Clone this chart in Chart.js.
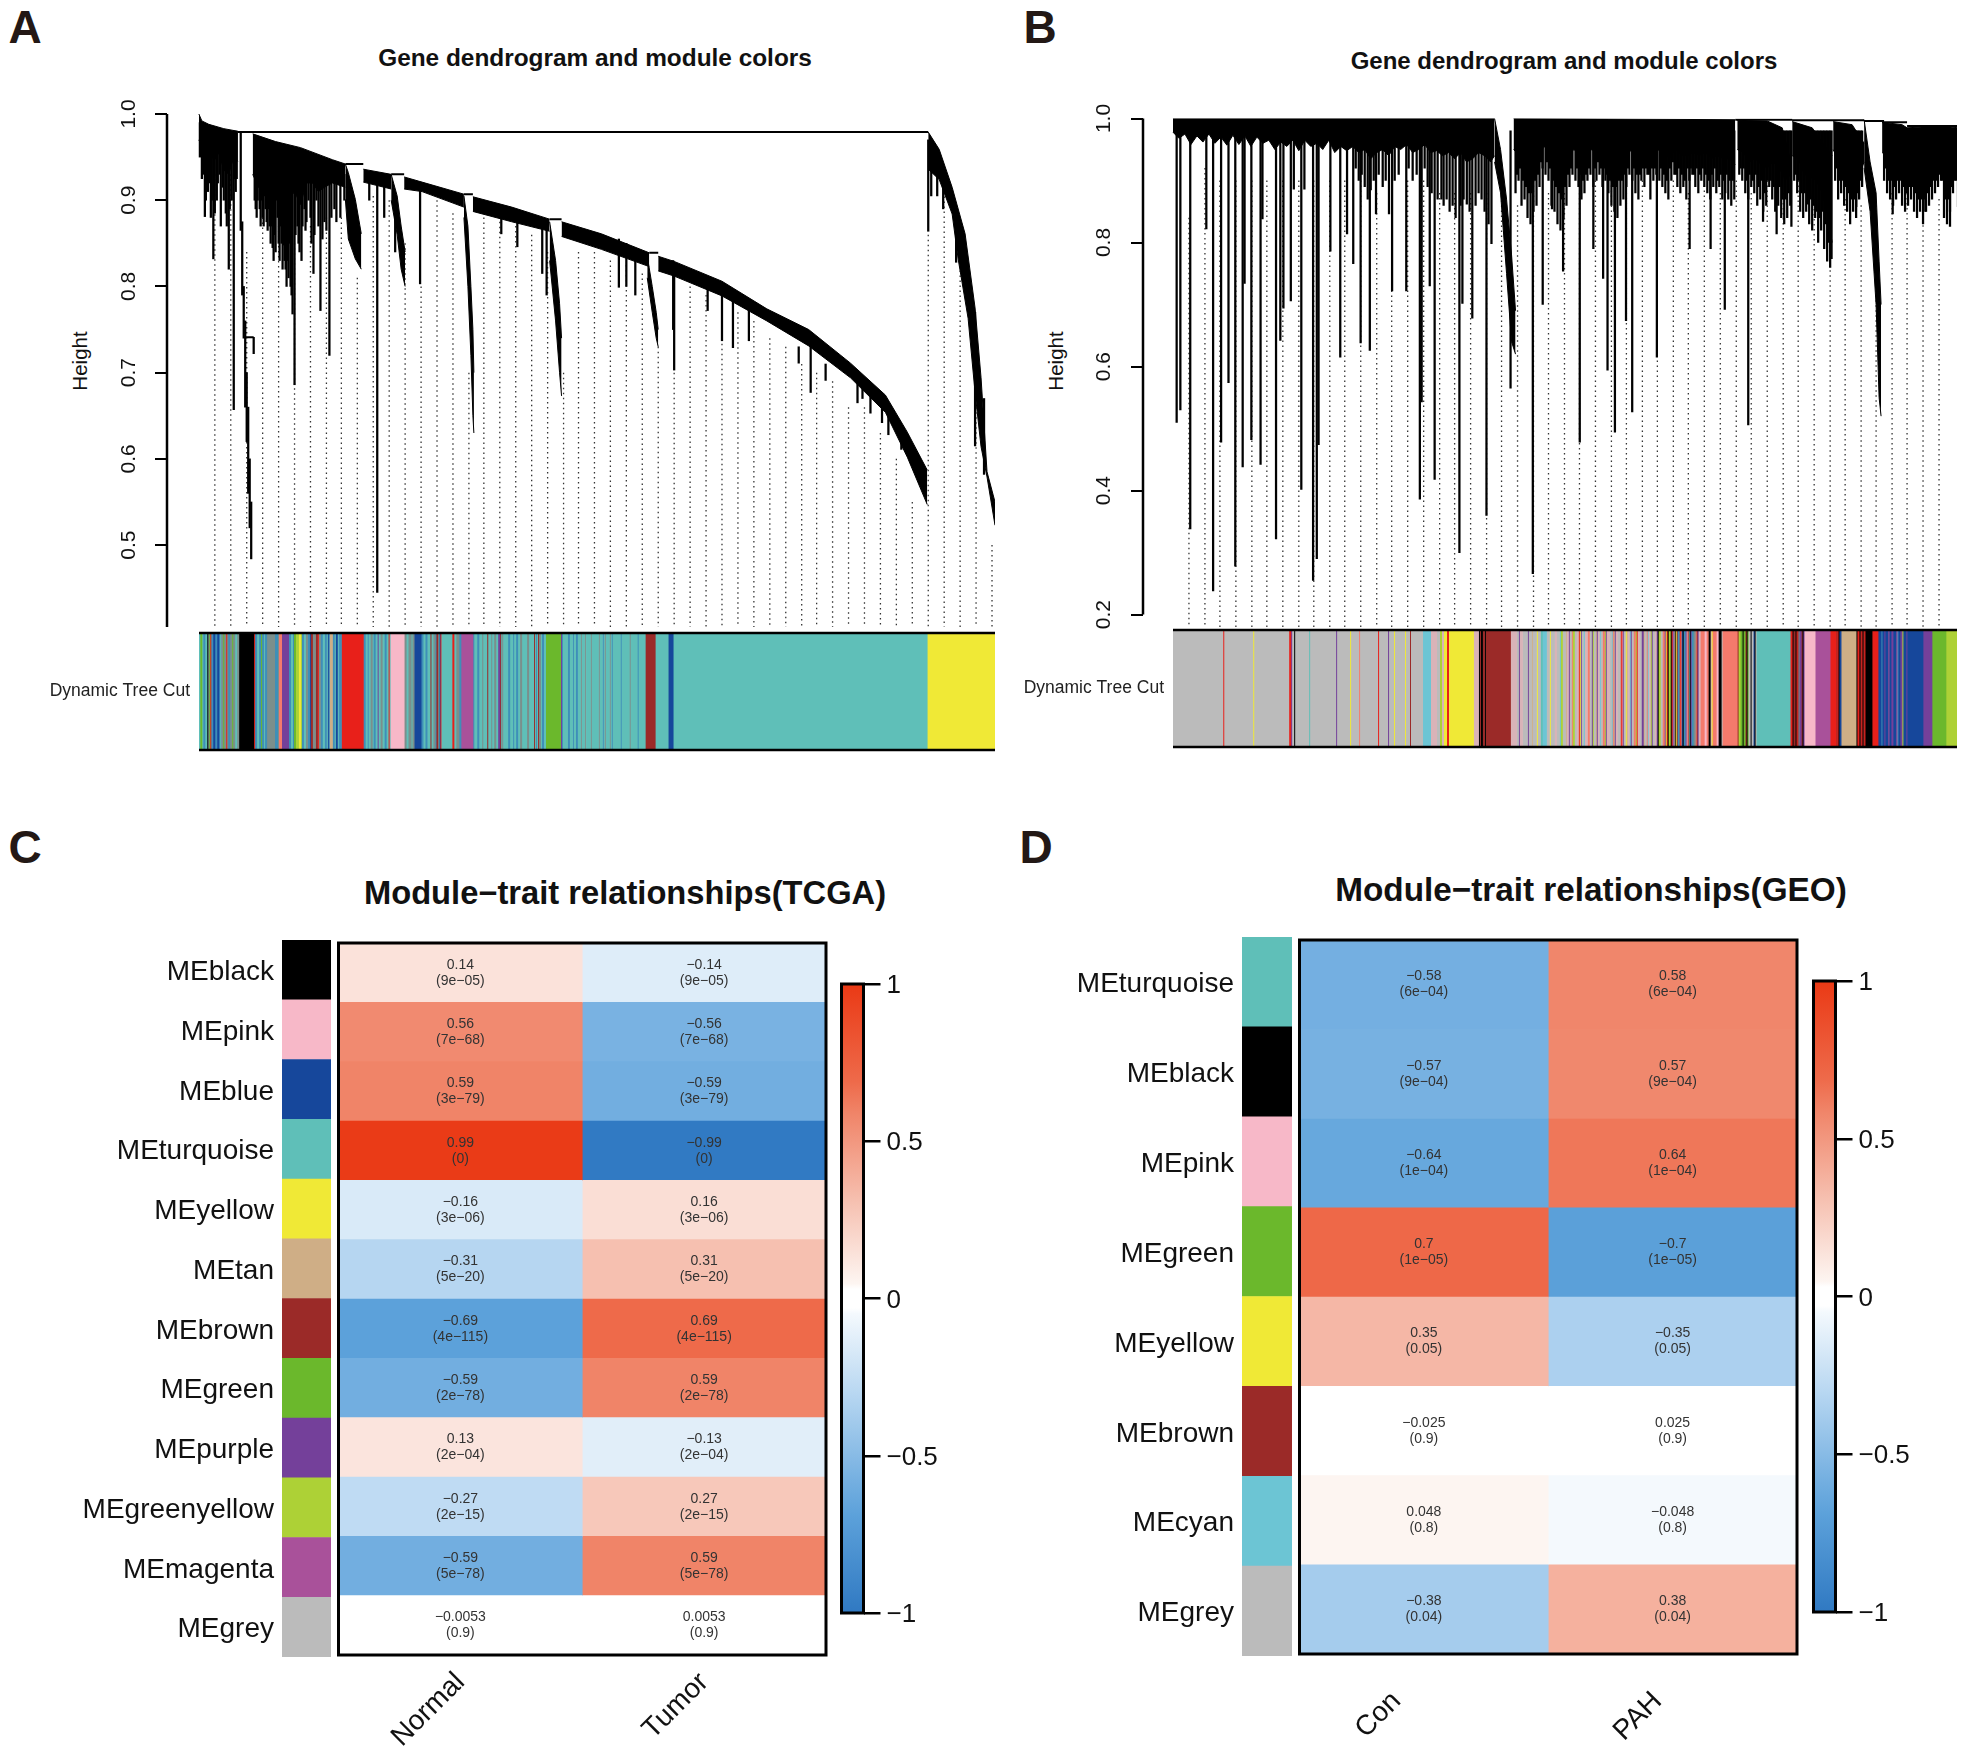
<!DOCTYPE html>
<html>
<head>
<meta charset="utf-8">
<title>Gene dendrograms and module-trait relationships</title>
<script src="https://cdn.jsdelivr.net/npm/chart.js@4"></script>
<style>
html,body{margin:0;padding:0;background:#fff;width:1965px;height:1751px;overflow:hidden;font-family:"Liberation Sans",Arial,sans-serif;}
canvas{position:absolute;}
.t{position:absolute;white-space:nowrap;color:#111;transform:translate(-50%,-50%);line-height:1;}
.b{font-weight:bold;}
.letter{font-weight:bold;color:#231815;font-size:46px;}
.rot{transform:translate(-50%,-50%) rotate(-90deg);}
</style>
</head>
<body>
<div class="t letter" style="left:25px;top:27px">A</div>
<div class="t letter" style="left:1040px;top:27px">B</div>
<div class="t letter" style="left:25px;top:847px">C</div>
<div class="t letter" style="left:1036px;top:847px">D</div>
<div class="t b" style="left:595px;top:58px;font-size:24.4px">Gene dendrogram and module colors</div>
<div class="t b" style="left:1564px;top:61px;font-size:24px">Gene dendrogram and module colors</div>
<div class="t b" style="left:625px;top:893px;font-size:32.7px">Module−trait relationships(TCGA)</div>
<div class="t b" style="left:1591px;top:890px;font-size:33.3px">Module−trait relationships(GEO)</div>
<div class="t rot" style="left:80px;top:361px;font-size:20.5px">Height</div>
<div class="t rot" style="left:1056px;top:361px;font-size:20.5px">Height</div>
<script>
// ---------- module colours ----------
const moduleColors = {black:'#000000',pink:'#F7B8C8',blue:'#16479B',turquoise:'#5FBFB8',yellow:'#F0E936',tan:'#CFAE86',brown:'#9B2A28',green:'#6BB82C',purple:'#74409A',greenyellow:'#ADD136',magenta:'#A9519A',grey:'#BBBBBB',cyan:'#6CC5D4'};
const stripCodes = {T:'#5FBFB8',B:'#16479B',N:'#9B2A28',Y:'#F0E936',G:'#6BB82C',R:'#E8201A',K:'#000000',P:'#F7B8C8',M:'#A9519A',U:'#74409A',L:'#ADD136',A:'#CFAE86',S:'#F47A6C',C:'#6CC5D4',E:'#BBBBBB',W:'#3E8FB8',X:'#7B8F8C',Z:'#D9B3B8'};

// ---------- panel C ----------
const rowsC = ['MEblack','MEpink','MEblue','MEturquoise','MEyellow','MEtan','MEbrown','MEgreen','MEpurple','MEgreenyellow','MEmagenta','MEgrey'];
const colorsC = ['black','pink','blue','turquoise','yellow','tan','brown','green','purple','greenyellow','magenta','grey'];
const traitsC = ['Normal','Tumor'];
const corrNormal = [0.14,0.56,0.59,0.99,-0.16,-0.31,-0.69,-0.59,0.13,-0.27,-0.59,-0.0053];
const corrTumor = [-0.14,-0.56,-0.59,-0.99,0.16,0.31,0.69,0.59,-0.13,0.27,0.59,0.0053];
const pvalC = ['(9e−05)','(7e−68)','(3e−79)','(0)','(3e−06)','(5e−20)','(4e−115)','(2e−78)','(2e−04)','(2e−15)','(5e−78)','(0.9)'];

// ---------- panel D ----------
const rowsD = ['MEturquoise','MEblack','MEpink','MEgreen','MEyellow','MEbrown','MEcyan','MEgrey'];
const colorsD = ['turquoise','black','pink','green','yellow','brown','cyan','grey'];
const traitsD = ['Con','PAH'];
const corrCon = [-0.58,-0.57,-0.64,0.7,0.35,-0.025,0.048,-0.38];
const corrPah = [0.58,0.57,0.64,-0.7,-0.35,0.025,-0.048,0.38];
const pvalD = ['(6e−04)','(9e−04)','(1e−04)','(1e−05)','(0.05)','(0.9)','(0.8)','(0.04)'];

// ---------- colour scale ----------
const rampValues = [-1,-0.69,-0.59,-0.31,-0.048,-0.03,0.03,0.048,0.31,0.59,0.69,1];
const rampColors = [[48,121,194],[92,161,218],[114,174,224],[182,214,241],[244,249,253],[255,255,255],[255,255,255],[253,245,241],[246,192,176],[240,132,104],[238,106,74],[234,57,21]];
const barTicks = [-1,-0.5,0,0.5,1];

// ---------- panel A: tree ----------
const yTicksA = [0.5,0.6,0.7,0.8,0.9,1.0];
const guideXA = [16,32,48,64,80,96,112,128,143,159,175,191,207,223,239,255,271,286,302,318,334,350,366,381,397,413,429,445,461,477,493,509,525,541,557,573,589,605,620,636,652,668,684,700,716,732,748,764,780,796];
const guideTopA = [.93,.93,.84,.88,.87,.85,.87,.88,.88,.81,.905,.90,.85,.80,.90,.885,.70,.88,.875,.87,.86,.84,.70,.84,.84,.83,.825,.815,.73,.70,.80,.79,.78,.77,.76,.74,.73,.71,.70,.69,.66,.66,.63,.60,.55,.86,.91,.83,.66,.50];
const bandsA = [
 {top:[[0,1],[3,.992],[10,.988],[25,.983],[39,.98]],low:[[0,.97],[5,.955],[10,.962],[15,.945],[20,.955],[25,.935],[30,.93],[35,.95],[39,.945]]},
 {top:[[54,.977],[77,.968],[102,.961],[134,.947],[147,.942]],low:[[54,.93],[60,.915],[66,.92],[72,.91],[78,.925],[84,.905],[90,.90],[96,.91],[102,.895],[108,.92],[114,.92],[120,.91],[126,.915],[134,.92],[147,.915]]},
 {top:[[147,.942],[150,.932],[157,.901],[163,.861]],low:[[147,.901],[150,.855],[157,.832],[163,.82]]},
 {top:[[165,.936],[193,.93]],low:[[165,.921],[193,.913]]},
 {top:[[193,.93],[199,.905],[203,.87],[207,.84]],low:[[193,.90],[199,.86],[203,.82],[207,.80]]},
 {top:[[206,.927],[224,.921],[266,.907]],low:[[206,.913],[224,.91],[266,.892]]},
 {top:[[266,.905],[270,.87],[273,.80],[275,.75],[276,.70]],low:[[266,.88],[270,.80],[273,.72],[275,.65],[276,.63]]},
 {top:[[275,.904],[314,.892],[352,.878]],low:[[275,.887],[314,.875],[352,.864]]},
 {top:[[352,.875],[358,.83],[362,.78],[364,.74]],low:[[352,.83],[358,.76],[362,.70],[364,.673]]},
 {top:[[364,.875],[404,.861],[452,.839]],low:[[364,.858],[404,.843],[452,.823]]},
 {top:[[450,.835],[455,.80],[459,.77],[461,.75]],low:[[450,.81],[455,.77],[459,.74],[461,.73]]},
 {top:[[461,.835],[477,.829],[525,.806],[570,.774],[612,.75],[654,.711],[689,.674],[711,.631],[731,.587]],low:[[461,.818],[477,.812],[525,.789],[570,.76],[612,.731],[654,.694],[689,.654],[711,.602],[731,.547]]},
 {top:[[732,.979],[743,.959],[756,.915],[769,.861],[779,.775],[785,.694],[791,.585],[799,.55]],low:[[732,.936],[743,.924],[756,.884],[762,.832],[772,.763],[779,.677],[785,.614],[791,.579],[799,.523]]}
];
const linksA = [[39,732,.979],[147,165,.942],[193,206,.93],[266,275,.907],[352,364,.878],[452,461,.839],[45.5,55,.741]];
const stemsA = [
 [1,.99,.95],[3,.985,.925],[4,.99,.93],[6,.985,.881],[7,.985,.90],[9,.985,.91],[10,.985,.92],[12,.98,.88],[13,.98,.90],[14.5,.98,.832],[16,.98,.885],[18,.98,.90],[19,.98,.92],[21,.98,.93],[22,.98,.87],[24,.98,.915],[25,.98,.90],[27,.98,.885],[28,.98,.87],[30,.98,.82],[31,.98,.89],[33,.98,.90],[35,.98,.657],[36,.98,.925],[37,.98,.91],[38,.98,.925],
 [42,.979,.865],[43.5,.875,.79],[45,.80,.74],[46.5,.76,.66],[48,.70,.62],[49.5,.66,.56],[51,.60,.52],[52.5,.55,.484],[55,.741,.722],
 [56,.97,.90],[57,.97,.89],[58,.97,.88],[59,.97,.90],[60,.97,.915],[61,.97,.89],[62,.97,.87],[63,.97,.90],[64,.97,.88],[65,.97,.87],[66,.97,.905],[67,.96,.89],[68,.96,.875],[69,.96,.865],[70,.96,.89],[71,.96,.87],[72,.96,.85],[73,.96,.87],[74,.96,.845],[75,.96,.83],[76,.96,.86],[77,.96,.84],[78,.96,.90],[79,.96,.88],[80,.96,.85],[81,.96,.83],[82,.96,.87],[83,.96,.85],[84,.96,.82],[85,.96,.848],[86,.96,.83],[87,.96,.82],[88,.96,.80],[89,.96,.83],[90,.96,.81],[91,.96,.85],[92,.95,.80],[93,.95,.79],[94,.955,.768],[96,.95,.686],[97,.95,.86],[99,.95,.87],[100,.95,.85],[101,.95,.84],[103,.95,.83],[104,.95,.87],[106,.95,.89],[107,.95,.865],[108,.95,.875],[110,.95,.90],[112,.95,.88],[113,.95,.85],[115,.95,.815],[116,.95,.86],[118,.95,.90],[120,.94,.87],[122,.94,.772],[124,.94,.855],[126,.94,.875],[128,.94,.865],[131,.94,.72],[133,.94,.88],[136,.93,.89],[138,.93,.875],[142,.93,.88],[146,.93,.90],
 [171,.93,.90],[179,.92,.445],[186,.92,.88],[197,.9,.84],[222,.92,.803],[303.5,.885,.861],[319.6,.875,.846],[344.6,.87,.815],[349,.87,.79],
 [421.5,.855,.799],[429,.85,.80],[438,.84,.79],[476,.83,.75],[477,.82,.703],[510.6,.80,.772],[525,.79,.737],[536,.785,.729],[552,.775,.737],[602,.73,.711],[614,.73,.677],[629,.71,.691],[661,.69,.665],[666,.69,.67],[674,.68,.653],[685.6,.66,.642],[692,.65,.628],[705,.62,.611],
 [732,.97,.864],[735,.95,.905],[741,.95,.905],[747,.94,.89],[760,.89,.828],[779,.77,.615],[788,.67,.582]
];
const stripA = ('T1 G2 T1 W2 T2 K1 X1 G1 R1 W2 B2 W2 B2 W1 T1 X2 G1 X2 R1 X1 W2 X2 G1 X2 T2 X2 K15 '+
 'R1 W2 T2 W2 G1 W2 T1 W2 X8 W3 X1 S3 U7 W2 T2 W1 G2 L3 Y2 L1 '+
 'W2 T2 X2 W2 B1 N2 X3 N2 R1 X2 W2 T2 W2 T1 B1 W1 A3 W2 T1 B2 T1 W1 W2 R22 '+
 'W2 T2 W1 T2 X2 T1 W2 T2 U1 T2 X2 T2 W2 T2 R1 T1 P14 X2 T2 X3 T1 X2 B7 '+
 'W2 T2 W2 T3 N1 T2 X2 W1 N2 T1 B1 R1 T11 R2 T2 X3 W2 M12 '+
 'W1 T3 W2 T3 X1 T4 N1 T3 X1 T2 X2 T2 U2 N1 T1 X1 T5 W2 T3 W1 T2 W2 T2 X2 T5 X2 T5 N1 T1 W1 T1 N1 X2 T1 W2 T2 G15 '+
 'U1 W1 T5 W2 T3 W1 T2 W2 T3 X1 T3 X1 T1 T4 X1 T7 X1 T3 W1 T1 X1 T4 X1 T1 W1 T8 W1 T8 X1 T1 T6 W1 T7 '+
 'N10 T13 B5 T255 Y69').split(' ');

// ---------- panel B: tree ----------
const yTicksB = [0.2,0.4,0.6,0.8,1.0];
const guideXB = [16,32,47,63,79,94,110,126,141,157,172,188,204,219,235,251,267,282,298,314,329,345,361,376,392,407,423,439,454,470,485,501,516,532,548,564,579,595,611,626,642,658,673,689,704,720,735,751,767];
const guideTopB = [.84,.92,.9,.9,.9,.9,.9,.9,.9,.9,.9,.9,.88,.9,.9,.9,.88,.88,.88,.88,.9,.86,.9,.88,.88,.88,.9,.9,.88,.9,.9,.9,.88,.9,.88,.9,.88,.9,.88,.9,.87,.86,.87,.86,.86,.88,.88,.86,.87];
const bandsB = [
 {top:[[0,1],[322,1]],low:[[0,.978],[6,.968],[12,.975],[18,.958],[24,.972],[30,.962],[36,.975],[42,.96],[48,.97],[54,.957],[60,.973],[66,.958],[72,.972],[78,.955],[84,.97],[90,.96],[96,.965],[102,.95],[108,.962],[114,.955],[120,.965],[126,.948],[132,.965],[138,.955],[144,.96],[150,.95],[156,.965],[162,.945],[168,.955],[174,.948],[180,.955],[186,.945],[192,.95],[198,.935],[204,.945],[210,.95],[216,.94],[222,.955],[228,.95],[234,.958],[240,.945],[246,.95],[252,.958],[258,.945],[264,.948],[270,.94],[276,.945],[282,.935],[288,.945],[294,.93],[300,.935],[306,.945],[312,.94],[318,.93],[322,.94]]},
 {top:[[322,1],[328,.95],[334,.87],[339,.78],[343,.69]],low:[[322,.93],[328,.88],[334,.75],[339,.64],[343,.62]]},
 {top:[[341,1],[563,.998]],low:[[341,.95],[347,.94],[353,.93],[359,.915],[365,.925],[371,.955],[377,.95],[383,.92],[389,.91],[395,.93],[401,.95],[407,.945],[413,.935],[419,.95],[425,.945],[431,.95],[437,.94],[443,.925],[449,.93],[455,.945],[461,.95],[467,.935],[473,.945],[479,.94],[485,.95],[491,.945],[497,.935],[503,.95],[509,.94],[515,.94],[521,.945],[527,.94],[533,.945],[539,.935],[545,.94],[551,.935],[557,.935],[563,.925]]},
 {top:[[565,.997],[595,.996],[610,.985],[619,.93]],low:[[565,.95],[571,.945],[577,.93],[583,.935],[589,.925],[595,.92],[601,.93],[607,.92],[613,.90],[619,.91]]},
 {top:[[620,.995],[640,.985],[660,.94]],low:[[620,.94],[626,.935],[632,.91],[638,.905],[644,.90],[650,.88],[656,.84],[660,.80]]},
 {top:[[661,.995],[680,.99],[692,.96]],low:[[661,.95],[667,.93],[673,.93],[679,.91],[685,.90],[692,.93]]},
 {top:[[692,.998],[698,.93],[704,.88],[707,.77],[709,.70]],low:[[692,.92],[698,.85],[704,.70],[707,.55],[709,.52]]},
 {top:[[710,.994],[730,.99],[735,.985],[770,.988],[786,.985]],low:[[710,.945],[716,.94],[722,.92],[728,.93],[734,.92],[740,.925],[746,.91],[752,.90],[758,.915],[764,.93],[770,.94],[776,.905],[782,.93],[786,.94]]}
];
const linksB = [[563,620,.998],[620,692,.997],[692,712,.996],[710,735,.994],[735,786,.988]];
const stemsB = [[3.7,.510],[7.4,.530],[17.3,.338],[33.4,.822],[40.2,.238],[48.2,.478],[55.6,.574],[62.4,.278],[69.8,.438],[71.7,.734],[78.5,.482],[87.7,.442],[89.6,.838],[103.2,.322],[107.5,.642],[110.6,.694],[118,.706],[121,.886],[128.5,.402],[131.6,.886],[140.3,.255],[144,.290],[145.8,.474],[157.6,.786],[167.5,.615],[174.3,.814],[180.5,.766],[187.9,.638],[197.1,.626],[203.3,.846],[216.3,.846],[219.4,.722],[233.6,.722],[247.2,.386],[249,.543],[257.1,.730],[262,.418],[268.8,.870],[286.8,.300],[289.8,.702],[294.2,.862],[299.7,.678],[313.9,.360],[318.9,.798],[338,.565],[360.3,.266],[370.2,.700],[379.5,.854],[390.6,.754],[407.3,.478],[420.9,.790],[430.7,.742],[435.1,.594],[442.5,.494],[453.6,.674],[459.8,.527],[484.5,.615],[517.3,.790],[538.3,.790],[552.5,.692],[576,.506],[590.8,.834],[604.4,.814],[619.2,.826],[635.9,.862],[659.4,.774],[684.1,.858],[720.6,.846],[753.3,.850],[778,.826],[786,.858]];
const shortStemsB = [[183,.92],[186,.90],[189,.91],[192,.89],[195,.87],[198,.885],[201,.90],[206,.91],[210,.89],[213,.90],[222,.90],[226,.91],[236,.92],[240,.90],[244,.91],[252,.92],[255,.89],[259,.88],[265,.87],[271,.86],[274,.87],[277,.85],[280,.86],[283,.84],[288,.86],[291,.87],[297,.85],[303,.86],[306,.88],[309,.87],[312,.85],[316,.83],
 [343,.88],[346,.90],[349,.86],[352,.87],[355,.84],[358,.83],[361,.85],[364,.86],[367,.89],[370,.92],[373,.91],[376,.90],[379,.86],[382,.85],[385,.83],[388,.82],[391,.84],[394,.86],[397,.89],[400,.91],[403,.90],[406,.89],[409,.87],[412,.88],[415,.90],[418,.91],[421,.89],[424,.90],[427,.91],[430,.89],[433,.90],[436,.88],[439,.86],[442,.85],[445,.84],[448,.86],[451,.87],[454,.89],[457,.91],[460,.90],[463,.88],[466,.87],[469,.90],[472,.89],[475,.91],[478,.87],[481,.90],[484,.91],[487,.90],[490,.89],[493,.88],[496,.87],[499,.90],[502,.91],[505,.89],[508,.88],[511,.89],[514,.87],[517,.90],[520,.91],[523,.89],[526,.88],[529,.90],[532,.89],[535,.88],[538,.87],[541,.89],[544,.88],[547,.89],[550,.87],[553,.88],[556,.87],[559,.86],[562,.87],
 [567,.91],[570,.90],[573,.88],[576,.87],[579,.89],[582,.88],[585,.86],[588,.87],[591,.85],[594,.86],[597,.89],[600,.87],[603,.85],[606,.86],[609,.84],[612,.83],[615,.84],[618,.86],
 [622,.90],[625,.88],[628,.85],[631,.84],[634,.85],[637,.83],[640,.82],[643,.84],[646,.80],[649,.82],[652,.79],[655,.77],[658,.76],
 [663,.90],[666,.87],[669,.88],[672,.86],[675,.85],[678,.83],[681,.85],[684,.84],[687,.87],[690,.89],
 [712,.90],[715,.88],[718,.87],[721,.86],[724,.87],[727,.88],[730,.86],[733,.85],[736,.86],[739,.87],[742,.85],[745,.84],[748,.85],[751,.83],[754,.85],[757,.86],[760,.87],[763,.88],[766,.89],[769,.90],[772,.84],[775,.83],[778,.85],[781,.88],[784,.90]];
const fineStemsB = [[344.5,.91],[347.5,.92],[350.5,.90],[353.5,.89],[356.5,.88],[359.5,.88],[362.5,.90],[365.5,.91],[368.5,.93],[374.5,.93],[377.5,.92],[380.5,.90],[383.5,.89],[386.5,.88],[389.5,.87],[392.5,.89],[395.5,.91],[398.5,.92],[404.5,.92],[407.5,.91],[410.5,.90],[413.5,.91],[416.5,.92],[422.5,.92],[425.5,.93],[428.5,.92],[431.5,.92],[434.5,.91],[437.5,.90],[440.5,.89],[443.5,.89],[446.5,.90],[449.5,.90],[452.5,.91],[455.5,.92],[461.5,.92],[464.5,.91],[467.5,.91],[470.5,.92],[473.5,.92],[476.5,.91],[479.5,.92],[482.5,.92],[488.5,.92],[491.5,.91],[494.5,.90],[497.5,.92],[500.5,.93],[503.5,.91],[506.5,.92],[509.5,.91],[512.5,.90],[515.5,.92],[518.5,.92],[521.5,.91],[524.5,.92],[527.5,.91],[530.5,.92],[533.5,.91],[536.5,.90],[539.5,.91],[542.5,.92],[545.5,.90],[548.5,.91],[551.5,.90],[554.5,.91],[557.5,.90],[560.5,.90],
 [568.5,.92],[571.5,.92],[574.5,.90],[577.5,.91],[580.5,.90],[583.5,.91],[586.5,.89],[589.5,.90],[592.5,.88],[595.5,.90],[598.5,.90],[601.5,.89],[604.5,.88],[607.5,.89],[610.5,.87],[613.5,.87],[616.5,.88],
 [623.5,.91],[626.5,.90],[629.5,.88],[632.5,.88],[635.5,.87],[638.5,.87],[641.5,.86],[644.5,.85],[647.5,.84],[650.5,.85],[653.5,.83],[656.5,.80],
 [664.5,.92],[667.5,.90],[670.5,.90],[673.5,.89],[676.5,.88],[679.5,.87],[682.5,.87],[685.5,.88],[688.5,.90],
 [713.5,.92],[716.5,.90],[719.5,.90],[722.5,.89],[725.5,.90],[728.5,.90],[731.5,.89],[734.5,.88],[737.5,.89],[740.5,.89],[743.5,.88],[746.5,.87],[749.5,.87],[752.5,.87],[755.5,.88],[758.5,.89],[761.5,.90],[764.5,.90],[767.5,.91],[770.5,.90],[773.5,.87],[776.5,.87],[779.5,.89],[782.5,.90]];
const stripB = ('E50 R1 E29 Y1 E35 R2 U1 E2 K1 E14 T1 E26 U1 E13 Y1 E8 S1 E18 R1 E9 U1 E5 Y1 E10 Y1 E4 N1 E12 C8 Z6 E3 L2 Z2 Y3 R2 Y25 Z5 K1 N1 K2 N2 K1 N25 '+
 'Z6 E2 U1 Z3 E5 U1 E3 A1 E4 Y1 E3 T2 C4 E3 Y1 E4 Z2 E3 C1 L2 E3 A1 Z2 U1 E2 S1 L2 E2 Z2 R1 Y1 U1 E2 C1 Z3 S2 E2 U1 L1 E2 A1 U1 Z2 C1 E2 S2 L1 U1 Z3 E2 C1 S1 A1 U1 Z2 E3 R1 S1 U1 E2 Y1 A1 Z2 C1 U1 E2 S2 L1 R1 Z2 E2 U2 A1 E2 S1 C1 Z2 L1 U1 E2 Z2 U1 K1 L2 E2 S2 U1 Y1 R1 '+
 'K1 L2 K1 R1 U1 Z1 K1 Y1 N1 W2 R1 S1 B1 K1 W2 U1 Z1 R1 T1 K1 U1 W2 X2 S1 N1 U1 Z2 S4 P2 S2 K2 Z1 Y1 S4 P2 K3 E1 S15 '+
 'N1 L2 G2 K1 G2 N1 K1 G1 E2 K1 E2 B1 K1 E1 T34 R2 K1 N2 K1 R1 N1 X1 U2 N1 K1 U1 P11 M15 R6 N1 R1 K1 B2 A15 K1 R2 K1 N1 R1 K1 N1 R1 K1 K6 R6 '+
 'B3 W1 B2 U1 B3 M1 B2 U2 B3 M1 W1 B2 U2 L1 B3 U1 B2 B14 U9 G14 L11').split(' ');

// ---------- helpers ----------
const FONT = '"Liberation Sans", Arial, sans-serif';
Chart.defaults.font.family = FONT;
Chart.defaults.color = '#111';
function mk(l,t,r,b){
  const c=document.createElement('canvas');
  c.width=r-l;c.height=b-t;
  c.style.left=l+'px';c.style.top=t+'px';c.style.width=(r-l)+'px';c.style.height=(b-t)+'px';
  document.body.appendChild(c);
  return c;
}
const base = {responsive:false,devicePixelRatio:1,animation:false,events:[],maintainAspectRatio:false};
const quiet = {legend:{display:false},tooltip:{enabled:false},title:{display:false}};
const noPad = s => {s.paddingTop=0;s.paddingBottom=0;s.paddingLeft=0;s.paddingRight=0;};
function colorOf(v){
  for(let i=1;i<rampValues.length;i++){
    if(v<=rampValues[i]){
      const f=(v-rampValues[i-1])/(rampValues[i]-rampValues[i-1]);
      const a=rampColors[i-1],b=rampColors[i];
      return 'rgb('+a.map((x,k)=>Math.round(x+(b[k]-x)*f)).join(',')+')';
    }
  }
  return 'rgb('+rampColors[rampColors.length-1].join(',')+')';
}
const fmt = v => String(v).replace('-','−');
const framePlugin = {id:'frame',afterDatasetsDraw(chart,a,o){
  const {left,top,right,bottom}=chart.chartArea,c=chart.ctx;
  c.save();c.strokeStyle='#000';c.lineWidth=o.width||3;
  if(o.mode==='rows'){
    c.beginPath();c.moveTo(left,top);c.lineTo(right,top);c.moveTo(left,bottom);c.lineTo(right,bottom);c.stroke();
  } else c.strokeRect(left,top,right-left,bottom-top);
  c.restore();
}};
const cellTextPlugin = {id:'cellText',afterDatasetsDraw(chart,a,o){
  const c=chart.ctx,xs=chart.scales.x,ys=chart.scales.y;
  c.save();c.font='14px '+FONT;c.fillStyle='#333';c.textAlign='center';c.textBaseline='middle';
  o.columns.forEach((col,j)=>{
    const px=xs.getPixelForValue(j+0.5);
    col.forEach((v,i)=>{
      const py=ys.getPixelForValue(i);
      c.fillText(fmt(v),px,py-8);
      c.fillText(o.pvalues[i],px,py+8);
    });
  });
  c.restore();
}};

// ---------- dendrogram + strip ----------
function drawTree(cfg){
  const canvasTop=Math.floor(cfg.top)-40;
  const cv=mk(cfg.canvasL,canvasTop,cfg.right+4,cfg.bottom+4);
  const ds=[];
  const guidePts=[];
  cfg.guideX.forEach((x,i)=>{guidePts.push({x,y:cfg.guideTop[i]},{x,y:cfg.yMin},{x,y:null});});
  ds.push({type:'line',data:guidePts,borderColor:'#333',borderWidth:1.3,borderDash:[1.5,3.5],pointRadius:0,spanGaps:false,order:10,fill:false});
  ds.push({type:'line',data:[{x:cfg.xMin,y:1},{x:cfg.xMin,y:cfg.axisEnd}],borderColor:'#000',borderWidth:2.5,pointRadius:0,clip:false,fill:false,order:1});
  const linkPts=[];
  cfg.links.forEach(l=>{linkPts.push({x:l[0],y:l[2]},{x:l[1],y:l[2]},{x:l[1],y:null});});
  ds.push({type:'line',data:linkPts,borderColor:'#000',borderWidth:2,pointRadius:0,spanGaps:false,fill:false,order:1});
  cfg.bands.forEach(b=>{
    ds.push({type:'line',data:b.low.map(p=>({x:p[0],y:p[1]})),borderColor:'#000',borderWidth:1,pointRadius:0,fill:false,order:1});
    ds.push({type:'line',data:b.top.map(p=>({x:p[0],y:p[1]})),borderColor:'#000',borderWidth:1,pointRadius:0,fill:'-1',backgroundColor:'#000',order:1});
  });
  ds.push({type:'bar',data:cfg.stems,backgroundColor:'#000',barThickness:1.6,grouped:false,order:1});
  new Chart(cv,{type:'bar',data:{datasets:ds},options:{...base,
    layout:{autoPadding:false,padding:{top:cfg.top-canvasTop,bottom:4,right:4,left:0}},
    plugins:quiet,
    scales:{
      x:{type:'linear',display:false,offset:false,min:cfg.xMin,max:cfg.xMax},
      y:{type:'linear',min:cfg.yMin,max:1,offset:false,
        border:{display:false},
        grid:{display:true,drawOnChartArea:false,drawTicks:true,tickLength:12,lineWidth:2,color:'#000'},
        afterBuildTicks:s=>{s.ticks=cfg.yTicks.map(v=>({value:v}));},
        afterFit:s=>{s.width=cfg.axisX-cfg.canvasL;noPad(s);},
        ticks:{font:{size:21},color:'#111',minRotation:90,maxRotation:90,crossAlign:'center',padding:cfg.tickPad,callback:v=>v.toFixed(1)}
      }
    }}});
  // colour strip
  const st=mk(cfg.stripCanvasL,cfg.stripTop-4,cfg.right+4,cfg.stripBottom+4);
  const segs=cfg.strip.map(s=>({code:s[0],w:parseFloat(s.slice(1))}));
  new Chart(st,{type:'bar',data:{labels:['Dynamic Tree Cut'],datasets:segs.map(s=>({data:[s.w],backgroundColor:stripCodes[s.code],stack:'s'}))},
    options:{...base,indexAxis:'y',
      layout:{autoPadding:false,padding:{top:4,bottom:4,right:4,left:0}},
      plugins:{...quiet,frame:{mode:'rows',width:2.5}},
      datasets:{bar:{barPercentage:1,categoryPercentage:1,borderWidth:0}},
      scales:{
        x:{type:'linear',display:false,stacked:true,min:0,max:cfg.xMax,offset:false},
        y:{type:'category',stacked:true,grid:{display:false,drawTicks:false},border:{display:false},
           afterFit:s=>{s.width=cfg.stripLeft-cfg.stripCanvasL;noPad(s);},
           ticks:{font:{size:17.5},color:'#222',padding:9}}
      }},plugins:[framePlugin]});
}
drawTree({canvasL:100,axisX:167,right:995,top:114,bottom:627,xMin:-32,xMax:799,yMin:.405,axisEnd:.405,yTicks:yTicksA,tickPad:11,
  guideX:guideXA,guideTop:guideTopA,bands:bandsA,links:linksA,
  stems:stemsA.map(s=>({x:s[0],y:[s[2],s[1]]})),
  strip:stripA,stripCanvasL:20,stripLeft:199,stripTop:633,stripBottom:750});
drawTree({canvasL:1075,axisX:1143,right:1957,top:118.5,bottom:627,xMin:-30,xMax:785,yMin:.18,axisEnd:.2,yTicks:yTicksB,tickPad:12,
  guideX:guideXB,guideTop:guideTopB,bands:bandsB,links:linksB,
  stems:stemsB.concat(shortStemsB,fineStemsB).map(s=>({x:s[0],y:[s[1],.98]})),
  strip:stripB,stripCanvasL:1000,stripLeft:1173,stripTop:630,stripBottom:747});

// ---------- module side bar with row labels ----------
function drawSide(rows,colors,canvasL,l,r,t,b){
  const cv=mk(canvasL,t-2,r+2,b+2);
  new Chart(cv,{type:'bar',data:{labels:rows,datasets:[{data:rows.map(()=>[0,1]),backgroundColor:colors.map(c=>moduleColors[c])}]},
    options:{...base,indexAxis:'y',layout:{autoPadding:false,padding:{top:2,bottom:2,right:2,left:0}},plugins:quiet,
      datasets:{bar:{barPercentage:1,categoryPercentage:1}},
      scales:{
        x:{type:'linear',display:false,min:0,max:1,offset:false},
        y:{type:'category',grid:{display:false,drawTicks:false},border:{display:false},
           afterFit:s=>{s.width=l-canvasL;noPad(s);},
           ticks:{font:{size:28},color:'#111',padding:8,autoSkip:false,labelOffset:2.5}}
      }}});
}
drawSide(rowsC,colorsC,40,282,331,940,1657);
drawSide(rowsD,colorsD,1010,1242,1292,937,1656);

// ---------- correlation heat map ----------
function drawHeat(rows,traits,c0,c1,pv,canvasL,canvasR,l,r,t,b,tickX,pad){
  const cv=mk(canvasL,t-6,canvasR,b+95);
  new Chart(cv,{type:'bar',data:{labels:rows,datasets:[
      {data:rows.map(()=>[0,1]),backgroundColor:c0.map(colorOf),grouped:false},
      {data:rows.map(()=>[1,2]),backgroundColor:c1.map(colorOf),grouped:false}]},
    options:{...base,indexAxis:'y',
      layout:{autoPadding:false,padding:{top:6,left:l-canvasL,right:canvasR-r,bottom:0}},
      plugins:{...quiet,frame:{width:3},cellText:{columns:[c0,c1],pvalues:pv}},
      datasets:{bar:{barPercentage:1,categoryPercentage:1}},
      scales:{
        y:{type:'category',display:false},
        x:{type:'linear',min:0,max:2,offset:false,grid:{display:false,drawTicks:false},border:{display:false},
           afterBuildTicks:s=>{s.ticks=tickX.map(v=>({value:v}));},
           afterFit:s=>{s.height=95;noPad(s);},
           ticks:{font:{size:28},color:'#111',autoSkip:false,minRotation:45,maxRotation:45,padding:pad,callback:(v,i)=>traits[i]}}
      }},plugins:[framePlugin,cellTextPlugin]});
}
drawHeat(rowsC,traitsC,corrNormal,corrTumor,pvalC,330,832,338.5,826,943,1655,[0.5,1.5],11);
drawHeat(rowsD,traitsD,corrCon,corrPah,pvalD,1292,1803,1299.5,1797,940,1654,[0.39,1.44],31);

// ---------- colour key ----------
function drawKey(canvasL,canvasR,l,r,t,b){
  const cv=mk(canvasL,t-16,canvasR,b+16);
  new Chart(cv,{type:'bar',data:{labels:[''],datasets:[{data:[[-1,1]],
      backgroundColor:ctx=>{
        const a=ctx.chart.chartArea; if(!a) return '#fff';
        const g=ctx.chart.ctx.createLinearGradient(0,a.bottom,0,a.top);
        rampValues.forEach((v,i)=>g.addColorStop((v+1)/2,'rgb('+rampColors[i].join(',')+')'));
        return g;
      }}]},
    options:{...base,layout:{autoPadding:false,padding:{top:16,bottom:16,left:l-canvasL,right:0}},
      plugins:{...quiet,frame:{width:3}},
      datasets:{bar:{barPercentage:1,categoryPercentage:1}},
      scales:{
        x:{type:'category',display:false},
        y:{type:'linear',position:'right',min:-1,max:1,offset:false,
           border:{display:false},
           grid:{display:true,drawOnChartArea:false,drawTicks:true,tickLength:17,lineWidth:2.5,color:'#000'},
           afterBuildTicks:s=>{s.ticks=barTicks.map(v=>({value:v}));},
           afterFit:s=>{s.width=canvasR-r;noPad(s);},
           ticks:{font:{size:26},color:'#111',padding:6,labelOffset:2,callback:v=>fmt(v)}}
      }},plugins:[framePlugin]});
}
drawKey(835,970,841.5,863.5,984,1613);
drawKey(1807,1960,1813.5,1835.5,981,1612);
</script>
</body>
</html>
